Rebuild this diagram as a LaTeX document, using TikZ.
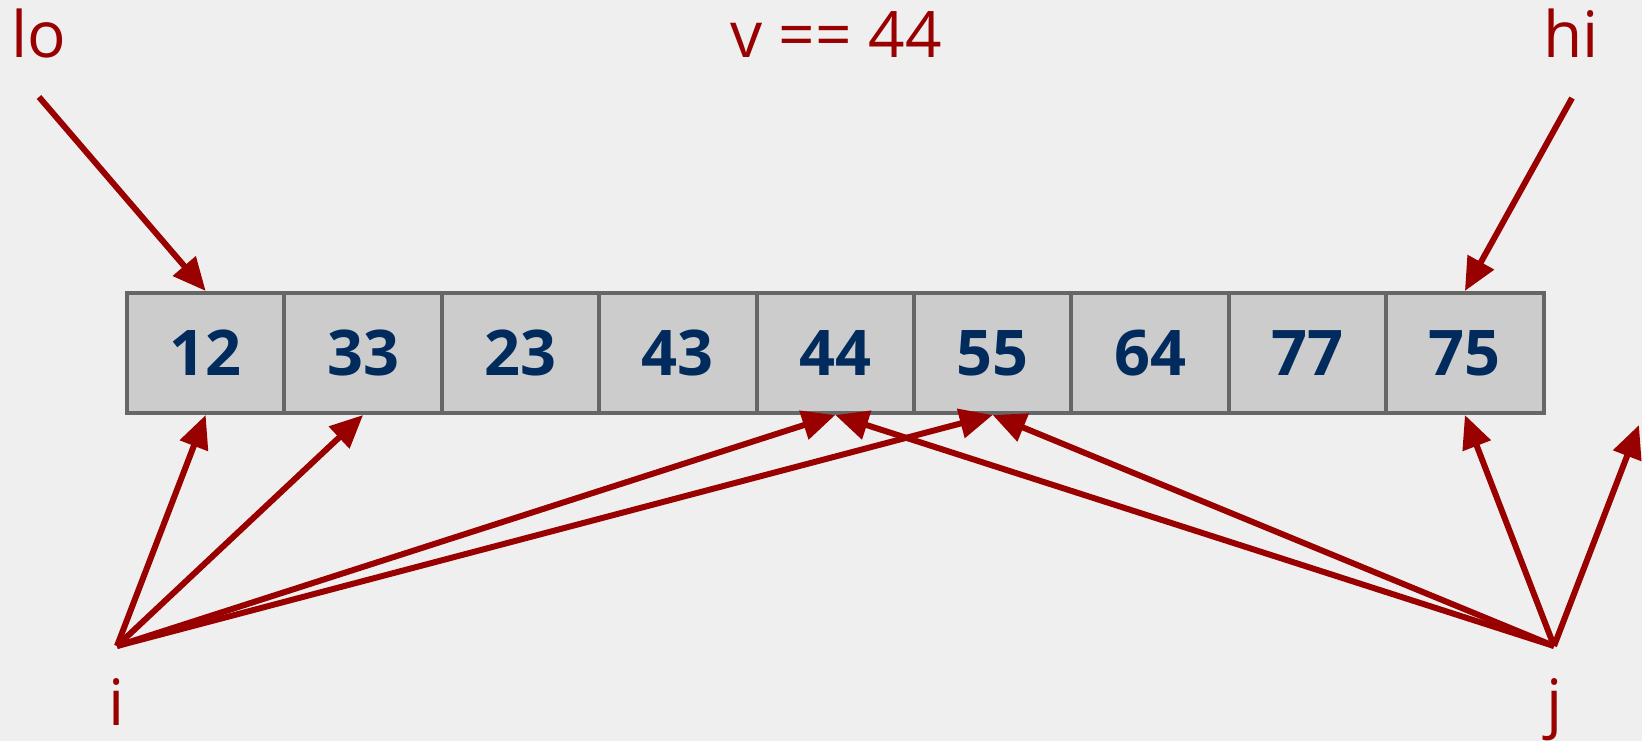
\documentclass[tikz,border=0pt]{standalone}
\usepackage{fontspec}
\setmainfont{Open Sans}
\usetikzlibrary{arrows.meta}
\definecolor{bg}{HTML}{EFEFEF}
\definecolor{cellfill}{HTML}{CCCCCC}
\definecolor{cellline}{HTML}{666666}
\definecolor{darkred}{HTML}{990000}
\definecolor{navy}{HTML}{002B5C}
\tikzset{
  cell/.style={draw=cellline, fill=cellfill, line width=4pt, minimum width=157.4pt, minimum height=120pt, inner sep=0pt,
    font=\fontsize{63}{75}\selectfont\bfseries, text=navy},
  lbl/.style={anchor=base, inner sep=0pt, text=darkred, font=\fontsize{64}{76}\selectfont},
  ptr/.style={draw=darkred, line width=6pt, -{Triangle[length=33pt,width=29pt]}}
}
\begin{document}
\begin{tikzpicture}[x=1pt,y=-1pt]
\fill[bg] (0,0) rectangle (1642,741);
\useasboundingbox (0,0) rectangle (1642,741);
\foreach \v [count=\k from 0] in {12,33,23,43,44,55,64,77,75} {
  \node[cell] (c\k) at ({127+157.4*(\k+0.5)},353) {\v};
}
\node[lbl] (lo) at (39,58) {lo};
\node[lbl] (hi) at (1571,58) {hi};
\node[lbl] (v) at (836,58) {v == 44};
\node[lbl] (i) at (117,725) {i};
\node[lbl] (j) at (1555,725) {j};
\coordinate (los) at (39,97);
\coordinate (his) at (1572,98);
\coordinate (is) at (117,646);
\coordinate (js) at (1554,646);
\coordinate (c9) at (1639,425);
\draw[ptr] (los) -- (c0.north);
\draw[ptr] (his) -- (c8.north);
\draw[ptr] (is) -- (c0.south);
\draw[ptr] (is) -- (c1.south);
\draw[ptr] (is) -- (c4.south);
\draw[ptr] (is) -- (c5.south);
\draw[ptr] (js) -- (c8.south);
\draw[ptr] (js) -- (c9);
\draw[ptr] (js) -- (c4.south);
\draw[ptr] (js) -- (c5.south);
\end{tikzpicture}
\end{document}
